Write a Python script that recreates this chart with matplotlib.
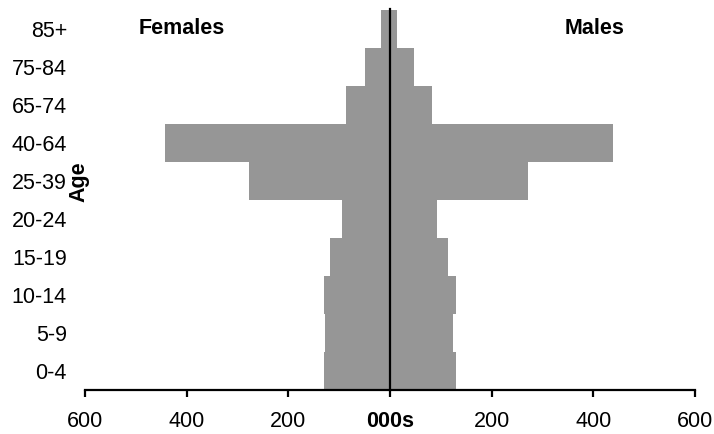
import matplotlib
matplotlib.use("Agg")
import matplotlib.pyplot as plt

plt.rcParams['font.family'] = ['Liberation Sans', 'DejaVu Sans']

# Population by age band, thousands
age_groups = ["0-4", "5-9", "10-14", "15-19", "20-24",
              "25-39", "40-64", "65-74", "75-84", "85+"]
females = [129, 127, 129, 119, 95, 277, 442, 86, 49, 17]
males = [129, 123, 129, 115, 92, 272, 438, 83, 48, 13]

tick_values = [-600, -400, -200, 0, 200, 400, 600]
tick_labels = ["600", "400", "200", "000s", "200", "400", "600"]

bar_color = "#969696"
fs = 15.5

fig = plt.figure(figsize=(7.14, 4.34), dpi=100)
ax = fig.add_axes([85 / 714, 44 / 434, 610 / 714, 380 / 434])

y = range(len(age_groups))
ax.barh(y, [-v for v in females], height=1.0, color=bar_color, linewidth=0)
ax.barh(y, males, height=1.0, color=bar_color, linewidth=0)

ax.set_xlim(-600, 600)
ax.set_ylim(-0.5, len(age_groups) - 0.5)

# Zero line running up the middle
ax.plot([0, 0], [-0.5, len(age_groups) - 0.5 + 0.03], color="black",
        linewidth=1.6, clip_on=False, zorder=3)

for side in ("left", "right", "top"):
    ax.spines[side].set_visible(False)
ax.spines["bottom"].set_linewidth(1.6)

ax.set_xticks(tick_values)
ax.set_xticklabels(tick_labels, fontsize=fs)
ax.get_xticklabels()[3].set_fontweight("bold")
ax.tick_params(axis="x", direction="out", length=5, width=1.6, pad=10)

ax.set_yticks(list(y))
ax.set_yticklabels(age_groups, fontsize=fs)
ax.tick_params(axis="y", length=0, pad=13)

fig.text(79 / 714, 1 - 182 / 434, "Age", rotation=90, fontsize=fs,
         fontweight="bold", ha="center", va="center")
fig.text(139 / 714, 1 - 29 / 434, "Females", fontsize=fs, fontweight="bold",
         ha="left", va="center")
fig.text(595 / 714, 1 - 29 / 434, "Males", fontsize=fs, fontweight="bold",
         ha="center", va="center")

fig.savefig("out.png", dpi=100)
